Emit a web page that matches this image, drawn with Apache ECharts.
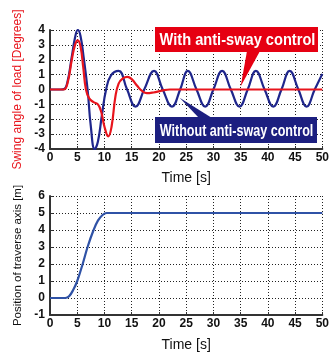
<!DOCTYPE html>
<html><head><meta charset="utf-8">
<script src="https://cdn.jsdelivr.net/npm/echarts@6/dist/echarts.min.js"></script>
<style>html,body{margin:0;padding:0;background:#fff}#c{width:332px;height:354px}</style>
</head><body><div id="c"></div>
<script>
// ---- data ----
const timeTicks = [0, 5, 10, 15, 20, 25, 30, 35, 40, 45, 50];
const swingWithout = [[0,0],[1,0],[2,0],[2.6,0.03],[3.2,0.5],[4.0,2.2],[4.6,3.5],[5.1,4.0],[5.6,3.6],[6.2,2.1],[6.9,0],[7.5,-2.5],[8.2,-4.0],[8.8,-3.5],[9.5,-1.8],[10.3,0],[11.2,0.95],[12.6,1.25],[14.1,0.05],[15.7,-1.15],[17.3,0],[19.1,1.25],[20.7,0],[22.4,-1.15],[23.9,0],[25.3,1.25],[26.9,0],[28.5,-1.15],[30.0,0],[31.6,1.25],[33.2,0],[34.8,-1.15],[36.3,0],[37.8,1.25],[39.4,0],[41.0,-1.15],[42.5,0],[44.0,1.25],[45.6,0],[47.1,-1.15],[48.6,0],[50,1.05]];
const swingWith = [[0,0],[2.5,0],[3.2,0.4],[4.0,2.0],[4.6,3.0],[5.1,3.3],[5.6,2.9],[6.1,1.5],[6.6,0],[7.2,-0.6],[8.0,-0.85],[8.8,-1.0],[9.4,-1.5],[10.0,-2.5],[10.7,-3.15],[11.3,-2.5],[12.0,-0.5],[12.6,0.4],[13.4,0.75],[14.2,0.85],[15.0,0.7],[16.0,0.25],[16.9,-0.1],[17.8,-0.25],[19.0,-0.2],[20.5,-0.08],[22,0],[50,0]];
const position = [[0,0],[2.8,0],[3.5,0.1],[4.3,0.5],[5.0,1.0],[6.0,2.0],[6.9,3.0],[8.0,4.0],[8.8,4.55],[9.6,4.87],[10.4,5],[50,5]];
const withLabel = 'With anti-sway control';
const withoutLabel = 'Without anti-sway control';
const withTip = [35, 0.2];
const withoutTip = [23.8, -0.55];

const chart = echarts.init(document.getElementById('c'), null, {renderer: 'canvas'});
const FONT = "'Liberation Sans', Arial, sans-serif";
const gridLine = {show: true, lineStyle: {color: '#222', type: [1, 2], width: 1}};
const axisLine = {show: true, onZero: false, lineStyle: {color: '#333', width: 2}};
const tick = {show: true, inside: true, length: 3, lineStyle: {color: '#333'}};
function xAx(gi){
  return {type: 'value', gridIndex: gi, min: 0, max: 50, interval: 5,
    name: 'Time [s]', nameLocation: 'middle', nameGap: 22,
    nameTextStyle: {fontFamily: FONT, fontSize: 14, color: '#111'},
    axisLine, axisTick: tick, splitLine: gridLine,
    axisLabel: {fontFamily: FONT, fontWeight: 'bold', fontSize: 12, color: '#111', margin: 3}};
}
chart.setOption({
  animation: false,
  grid: [
    {left: 50, top: 30, width: 273, height: 119},
    {left: 50, top: 196, width: 273, height: 119}
  ],
  xAxis: [xAx(0), Object.assign(xAx(1), {nameGap: 23})],
  yAxis: [
    {type: 'value', gridIndex: 0, min: -4, max: 4, interval: 1,
     name: 'Swing angle of load [Degrees]', nameLocation: 'middle', nameGap: 21, nameRotate: 90,
     nameTextStyle: {fontFamily: FONT, fontSize: 12, color: '#e8141c'},
     axisLine, axisTick: tick, splitLine: gridLine,
     axisLabel: {fontFamily: FONT, fontWeight: 'bold', fontSize: 12, color: '#111', margin: 5}},
    {type: 'value', gridIndex: 1, min: -1, max: 6, interval: 1,
     name: 'Position of traverse axis [m]', nameLocation: 'middle', nameGap: 22, nameRotate: 90,
     nameTextStyle: {fontFamily: FONT, fontSize: 11.5, color: '#111'},
     axisLine, axisTick: tick, splitLine: gridLine,
     axisLabel: {fontFamily: FONT, fontWeight: 'bold', fontSize: 12, color: '#111', margin: 5}}
  ],
  series: [
    {type: 'line', xAxisIndex: 0, yAxisIndex: 0, data: swingWithout, smooth: 0.45, showSymbol: false,
     lineStyle: {color: '#1f268c', width: 2.2}, z: 3},
    {type: 'line', xAxisIndex: 0, yAxisIndex: 0, data: swingWith, smooth: 0.45, showSymbol: false,
     lineStyle: {color: '#e8141c', width: 2.2}, z: 4},
    {type: 'line', xAxisIndex: 1, yAxisIndex: 1, data: position, smooth: 0.4, showSymbol: false,
     lineStyle: {color: '#2f52a6', width: 2.2}, z: 3}
  ]
});
const rt = chart.convertToPixel({gridIndex: 0}, withTip);
const bt = chart.convertToPixel({gridIndex: 0}, withoutTip);
chart.setOption({graphic: [
  {type: 'polygon', z: 100, shape: {points: [[247, 51], [260, 51], rt]}, style: {fill: '#e60012'}},
  {type: 'rect', z: 100, shape: {x: 155, y: 27, width: 163, height: 25}, style: {fill: '#e60012'}},
  {type: 'text', z: 101, x: 237.5, y: 40, scaleX: 0.86, style: {text: withLabel, fill: '#fff', font: "bold 17px " + FONT, align: 'center', verticalAlign: 'middle'}},
  {type: 'polygon', z: 100, shape: {points: [[199, 118], [212, 118], bt]}, style: {fill: '#1c1f80'}},
  {type: 'rect', z: 100, shape: {x: 155, y: 117, width: 162, height: 26}, style: {fill: '#1c1f80'}},
  {type: 'text', z: 101, x: 236.5, y: 131, scaleX: 0.74, style: {text: withoutLabel, fill: '#fff', font: "bold 17px " + FONT, align: 'center', verticalAlign: 'middle'}}
]});
</script></body></html>
